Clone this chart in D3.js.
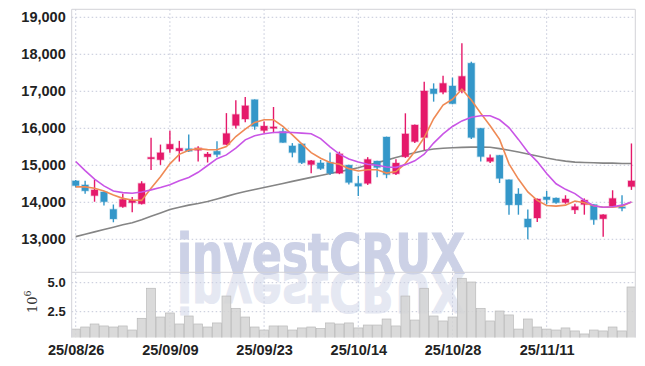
<!DOCTYPE html>
<html>
<head>
<meta charset="utf-8">
<script src="https://cdn.jsdelivr.net/npm/d3@7"></script>
<style>
  body { margin: 0; background: #fff; }
  svg { display: block; }
  .tick text { font-family: "Liberation Sans Narrow", "Liberation Sans", sans-serif; fill: #222; }
</style>
</head>
<body>
<svg width="645" height="366"></svg>
<script>
// trading days, 2025-08-26 .. 2025-11-24
const dates = ["25/08/26","25/08/27","25/08/28","25/08/29","25/09/01","25/09/02","25/09/03","25/09/04","25/09/05","25/09/08",
  "25/09/09","25/09/10","25/09/11","25/09/12","25/09/15","25/09/16","25/09/17","25/09/18","25/09/19","25/09/22",
  "25/09/23","25/09/24","25/09/25","25/09/26","25/09/29","25/09/30","25/10/01","25/10/02","25/10/10","25/10/13",
  "25/10/14","25/10/15","25/10/16","25/10/17","25/10/20","25/10/21","25/10/22","25/10/23","25/10/24","25/10/27",
  "25/10/28","25/10/29","25/10/30","25/10/31","25/11/03","25/11/04","25/11/05","25/11/06","25/11/07","25/11/10",
  "25/11/11","25/11/12","25/11/13","25/11/14","25/11/17","25/11/18","25/11/19","25/11/20","25/11/21","25/11/24"];

const open  = [14580,14470,14180,14280,13810,13880,13990,13960,15195,15150,15440,15390,15450,15405,15230,15380,15560,16075,16250,16775,
  15940,16015,15915,15525,15580,15020,15065,15080,14785,15005,14510,14510,15115,15765,14770,15230,15640,15750,17065,16975,
  17145,17010,17760,16000,15105,15270,14610,14225,13550,13575,14145,14115,13995,13795,13940,13940,13555,13885,13880,14425];
const high  = [14600,14580,14610,14290,13940,14230,14140,14570,15745,15560,15935,15660,15835,15515,15360,15650,16410,16755,16845,16780,
  16185,16575,16005,15600,15590,15145,15145,15345,15370,15015,14720,15220,15125,15775,15165,16405,16100,17260,17215,17420,
  17370,18300,17800,16010,15295,15280,14615,14380,13805,14100,14305,14130,14190,13960,14105,13950,13680,14325,14190,15590];
const low   = [14400,14230,14015,13910,13460,13850,13730,13940,14875,15010,15340,15100,15360,15100,15075,15220,15550,15995,16160,15960,
  15870,15870,15610,15215,15035,14785,14875,14740,14760,14480,14170,14470,14680,14650,14740,15200,15600,15415,16720,16920,
  16650,16945,15710,15100,15060,14520,13665,13665,13000,13465,13940,13960,13960,13685,13665,13390,13070,13870,13760,14335];
const close = [14450,14310,14335,14015,13550,14080,14060,14510,15215,15340,15570,15460,15380,15470,15305,15290,15860,16375,16610,16050,
  16060,16040,15615,15345,15070,15125,14910,14785,15310,14535,14435,15160,14940,14750,15060,15850,16090,17010,16935,17215,
  16665,17405,15750,15235,15205,14645,13930,13930,13330,14090,14070,13990,14090,13885,14060,13530,13665,14105,13860,14580];

// volume, millions of shares
const volume = [1.0,1.18,1.44,1.27,1.18,1.27,0.92,1.93,4.52,2.04,2.39,1.44,2.13,1.44,1.18,1.53,3.85,2.79,2.04,1.18,
  0.92,1.27,1.27,0.92,1.1,1.18,1.05,1.53,1.44,1.53,1.1,1.35,1.35,1.87,1.27,3.85,1.78,4.52,2.13,1.7,
  2.04,5.38,5.06,2.79,1.7,2.56,2.22,1.0,1.87,1.18,1.0,0.92,1.1,0.84,0.58,0.92,0.84,1.18,0.84,4.63];

// moving averages as drawn
const ma5  = [14417,14417,14381,14307,14198,14106,14060,14051,14381,14692,15039,15295,15405,15451,15424,15420,15507,15778,15977,16158,
  16231,16231,16050,15824,15579,15344,15190,15074,15030,14910,14845,14880,14880,14790,14830,15046,15370,15750,16260,16630,
  16784,17054,16765,16405,16070,15700,15039,14628,14280,14051,13914,13896,13923,14033,13987,13905,13868,13868,13896,14006];
const ma20 = [15103,14856,14628,14445,14307,14262,14243,14280,14335,14399,14472,14582,14673,14811,14994,15180,15281,15462,15688,15796,
  15851,15887,15896,15887,15869,15851,15720,15500,15300,15170,15090,15028,15000,14954,14944,15018,15120,15300,15600,15850,
  16050,16200,16300,16340,16340,16230,16020,15700,15360,15100,14780,14500,14350,14234,14051,13905,13868,13878,13923,14006];
const ma60 = [13072,13136,13200,13264,13328,13392,13447,13530,13621,13713,13804,13868,13923,13969,14024,14090,14160,14230,14290,14348,
  14400,14455,14510,14565,14620,14674,14725,14778,14828,14880,14935,15010,15070,15140,15210,15280,15340,15400,15440,15460,
  15475,15485,15490,15490,15488,15451,15405,15360,15305,15250,15195,15149,15113,15085,15076,15067,15058,15058,15048,15048];

const priceTicks = [13000,14000,15000,16000,17000,18000,19000];
const volTicks = [2.5,5.0];
const dateTicks = [0,10,20,30,40,50];

const svg = d3.select("svg");
const pLeft = 71.7, pRight = 635.3, pTop = 9.3, pMid = 272.3, pBottom = 337.5;

const x = d3.scaleLinear().domain([-0.425, 59.41]).range([pLeft, pRight]);
const y = d3.scaleLinear().domain([12108, 19216]).range([pMid, pTop]);
const yv = d3.scaleLinear().domain([0, 5]).range([340.7, 282.7]);
const step = x(1) - x(0);

const up = "#e5196a", down = "#3497c9";

svg.append("defs").append("clipPath").attr("id", "volclip")
  .append("rect").attr("x", pLeft).attr("y", pMid).attr("width", pRight - pLeft).attr("height", pBottom - pMid);

// grid
const grid = svg.append("g").attr("stroke", "#c3c7d8").attr("stroke-dasharray", "1.5,2.5");
grid.selectAll(".h").data(priceTicks).enter().append("line")
  .attr("x1", pLeft).attr("x2", pRight).attr("y1", d => y(d)).attr("y2", d => y(d));
grid.selectAll(".hv").data(volTicks).enter().append("line")
  .attr("x1", pLeft).attr("x2", pRight).attr("y1", d => yv(d)).attr("y2", d => yv(d));
grid.selectAll(".v").data(dateTicks).enter().append("line")
  .attr("x1", d => x(d)).attr("x2", d => x(d)).attr("y1", pTop).attr("y2", pBottom);

// watermark + mirrored reflection
const wm = svg.append("g");
wm.append("text").attr("id", "wmark").attr("x", 177).attr("y", 273)
  .attr("textLength", 288).attr("lengthAdjust", "spacingAndGlyphs")
  .style("font", "bold 55px 'DejaVu Sans'")
  .attr("fill", "#ccd1e6").attr("stroke", "#ccd1e6").attr("stroke-width", 1.2)
  .text("investCRUX");
wm.append("g").attr("clip-path", "url(#volclip)")
  .append("use").attr("href", "#wmark")
  .attr("transform", "translate(0,546) scale(1,-1)")
  .attr("opacity", 0.5);

// volume
svg.append("g").attr("clip-path", "url(#volclip)")
  .selectAll("rect").data(volume).enter().append("rect")
  .attr("x", (d, i) => x(i) - step / 2 + 0.3)
  .attr("width", step - 0.6)
  .attr("y", d => yv(d))
  .attr("height", d => pBottom - yv(d) + 2)
  .attr("fill", "#d3d3d3").attr("fill-opacity", 0.85)
  .attr("stroke", "#b9b9b9").attr("stroke-width", 0.7);

// frame
const frame = svg.append("g").attr("stroke", "#d2d2d8").attr("fill", "none");
frame.append("line").attr("x1", pLeft).attr("x2", pRight).attr("y1", pTop).attr("y2", pTop);
frame.append("line").attr("x1", pLeft).attr("x2", pRight).attr("y1", pMid).attr("y2", pMid);
frame.append("line").attr("x1", pLeft).attr("x2", pLeft).attr("y1", pTop).attr("y2", pBottom);
frame.append("line").attr("x1", pRight).attr("x2", pRight).attr("y1", pTop).attr("y2", pBottom);

const line = d3.line().x((d, i) => x(i)).y(d => y(d));
svg.append("path").attr("d", line(ma60)).attr("fill", "none").attr("stroke", "#858585").attr("stroke-width", 1.6);

// candles
const candles = svg.append("g").selectAll("g").data(open.map((o, i) => i)).enter().append("g");
candles.append("line")
  .attr("x1", i => x(i)).attr("x2", i => x(i))
  .attr("y1", i => y(high[i])).attr("y2", i => y(low[i]))
  .attr("stroke", i => close[i] >= open[i] ? up : down).attr("stroke-width", 1.4);
candles.append("rect")
  .attr("x", i => x(i) - step * 0.36).attr("width", step * 0.72)
  .attr("y", i => y(Math.max(open[i], close[i])))
  .attr("height", i => Math.max(1.5, Math.abs(y(open[i]) - y(close[i]))))
  .attr("fill", i => close[i] >= open[i] ? up : down)
  .attr("stroke", i => close[i] >= open[i] ? up : down)
  .attr("stroke-opacity", 0.25).attr("stroke-width", 1.5);

svg.append("path").attr("d", line(ma5)).attr("fill", "none").attr("stroke", "#ef8a55").attr("stroke-width", 1.6);
svg.append("path").attr("d", line(ma20)).attr("fill", "none").attr("stroke", "#c955e6").attr("stroke-width", 1.6);

// axes
const yAxis = d3.axisLeft(y).tickValues(priceTicks).tickFormat(d3.format(",")).tickSize(0).tickPadding(6);
svg.append("g").attr("transform", "translate(" + pLeft + ",0)").call(yAxis)
  .call(g => g.select(".domain").remove())
  .selectAll("text").style("font-size", "14.5px").style("font-weight", "bold");

const vAxis = d3.axisLeft(yv).tickValues(volTicks).tickFormat(d3.format(".1f")).tickSize(0).tickPadding(6);
svg.append("g").attr("transform", "translate(" + pLeft + ",0)").call(vAxis)
  .call(g => g.select(".domain").remove())
  .selectAll("text").style("font-size", "13px").style("font-weight", "bold");

const xAxis = d3.axisBottom(x).tickValues(dateTicks).tickFormat(i => dates[i]).tickSize(0).tickPadding(7);
svg.append("g").attr("transform", "translate(0," + pBottom + ")").call(xAxis)
  .call(g => g.select(".domain").remove())
  .selectAll("text").style("font-size", "14.5px").style("font-weight", "bold");

const unit = svg.append("text").attr("transform", "translate(37,313) rotate(-90)")
  .style("font", "13px 'DejaVu Serif'").attr("fill", "#333");
unit.append("tspan").text("10");
unit.append("tspan").attr("dy", -6).style("font-size", "9.5px").text("6");
</script>
</body>
</html>
